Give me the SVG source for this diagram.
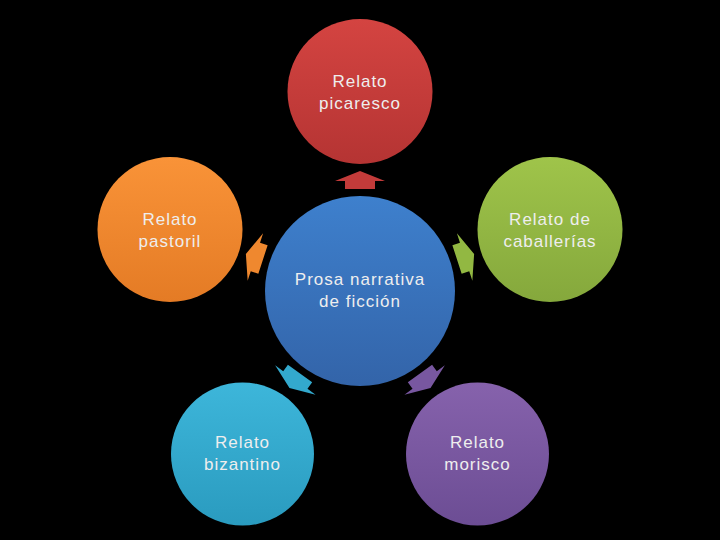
<svg xmlns="http://www.w3.org/2000/svg" width="720" height="540" viewBox="0 0 720 540">
  <defs>
    <linearGradient id="gRed" x1="0" y1="0" x2="0" y2="1"><stop offset="0" stop-color="#d44441"/><stop offset="1" stop-color="#b53433"/></linearGradient>
    <linearGradient id="gOrange" x1="0" y1="0" x2="0" y2="1"><stop offset="0" stop-color="#f99338"/><stop offset="1" stop-color="#e47b25"/></linearGradient>
    <linearGradient id="gGreen" x1="0" y1="0" x2="0" y2="1"><stop offset="0" stop-color="#9fc44a"/><stop offset="1" stop-color="#85a83c"/></linearGradient>
    <linearGradient id="gCyan" x1="0" y1="0" x2="0" y2="1"><stop offset="0" stop-color="#3db6da"/><stop offset="1" stop-color="#2a9bbf"/></linearGradient>
    <linearGradient id="gPurple" x1="0" y1="0" x2="0" y2="1"><stop offset="0" stop-color="#8662ac"/><stop offset="1" stop-color="#6c4d94"/></linearGradient>
    <linearGradient id="gBlue" x1="0" y1="0" x2="0" y2="1"><stop offset="0" stop-color="#3e80cd"/><stop offset="1" stop-color="#3364a9"/></linearGradient>
    <path id="arrow" d="M0,-120 L25,-110 L15,-110 L15,-102 L-15,-102 L-15,-110 L-25,-110 Z"/>
  </defs>
  <style>
    text { font-family: "Liberation Sans", Arial, sans-serif; font-size: 17px; fill: #eeeeee; text-anchor: middle; letter-spacing: 1px; }
  </style>
  <rect x="0" y="0" width="720" height="540" fill="#000000"/>

  <g id="connectors">
    <use href="#arrow" fill="#c33b3a" transform="translate(360,291) rotate(0)"/>
    <use href="#arrow" fill="#92b842" transform="translate(360,291) rotate(72)"/>
    <use href="#arrow" fill="#7857a0" transform="translate(360,291) rotate(144)"/>
    <use href="#arrow" fill="#33a9cd" transform="translate(360,291) rotate(216)"/>
    <use href="#arrow" fill="#ef882f" transform="translate(360,291) rotate(288)"/>
  </g>

  <g id="center">
    <circle cx="360" cy="291" r="95" fill="url(#gBlue)"/>
    <text x="360" y="285">Prosa narrativa</text>
    <text x="360" y="307">de ficción</text>
  </g>

  <g id="picaresco">
    <circle cx="360" cy="91.5" r="72.5" fill="url(#gRed)"/>
    <text x="360" y="87">Relato</text>
    <text x="360" y="109">picaresco</text>
  </g>

  <g id="caballerias">
    <circle cx="550" cy="229.5" r="72.5" fill="url(#gGreen)"/>
    <text x="550" y="225">Relato de</text>
    <text x="550" y="247">caballerías</text>
  </g>

  <g id="morisco">
    <circle cx="477.5" cy="454" r="71.5" fill="url(#gPurple)"/>
    <text x="477.5" y="448">Relato</text>
    <text x="477.5" y="470">morisco</text>
  </g>

  <g id="bizantino">
    <circle cx="242.5" cy="454" r="71.5" fill="url(#gCyan)"/>
    <text x="242.5" y="448">Relato</text>
    <text x="242.5" y="470">bizantino</text>
  </g>

  <g id="pastoril">
    <circle cx="170" cy="229.5" r="72.5" fill="url(#gOrange)"/>
    <text x="170" y="225">Relato</text>
    <text x="170" y="247">pastoril</text>
  </g>
</svg>
